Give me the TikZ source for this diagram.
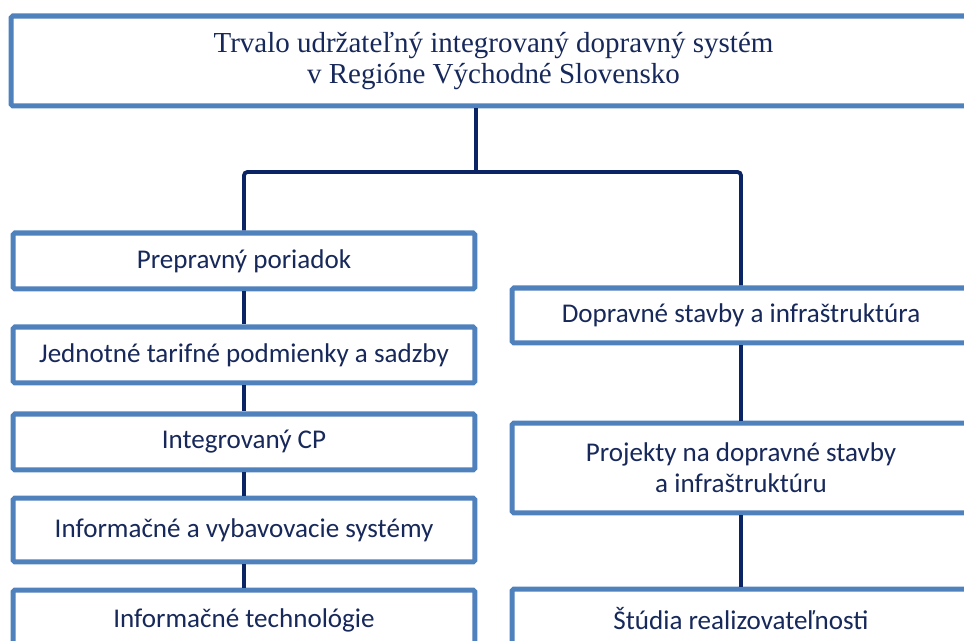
\documentclass[tikz,border=0pt]{standalone}
\usepackage{fontspec}
\setmainfont{Carlito}
\newfontfamily\titlefont{Liberation Serif}

\definecolor{boxblue}{HTML}{4F81BD}
\definecolor{linenavy}{HTML}{0B2463}
\definecolor{textnavy}{HTML}{17285A}

\tikzset{
  box/.style={draw=boxblue, line width=2.85pt, rounded corners=1pt, fill=white,
    text=textnavy, align=center, inner sep=0pt,
    font=\fontsize{15.4}{17.5}\selectfont},
  leftbox/.style={box, minimum width=9.24cm},
  rightbox/.style={box, minimum width=9.16cm},
  link/.style={draw=linenavy, line width=2.2pt, rounded corners=2pt},
}

\begin{document}
\begin{tikzpicture}[x=0.02cm, y=-0.02cm]

\useasboundingbox (0,0) rectangle (964,641);
\clip (0,0) rectangle (964,641);

% top box
\node[box, minimum width=19.3cm, minimum height=1.8cm,
  font=\titlefont\fontsize{16.5}{17.5}\selectfont] (top) at (493.5,61)
  {Trvalo udržateľný integrovaný dopravný systém\\v Regióne Východné Slovensko};

% left column
\node[leftbox, minimum height=1.12cm] (pp)  at (244,261) {Prepravný poriadok};
\node[leftbox, minimum height=1.12cm] (jt)  at (244,355) {Jednotné tarifné podmienky a sadzby};
\node[leftbox, minimum height=1.12cm] (icp) at (244,442) {Integrovaný CP};
\node[leftbox, minimum height=1.28cm] (ivs) at (244,530) {Informačné a vybavovacie systémy};
\node[leftbox, minimum height=1.2cm]  (it)  at (244,620) {Informačné technológie};

% right column
\node[rightbox, minimum height=1.1cm] (ds)  at (741,315.5) {Dopravné stavby a infraštruktúra};
\node[rightbox, minimum height=1.8cm] (pds) at (741,468) {Projekty na dopravné stavby\\a infraštruktúru};
\node[rightbox, minimum height=1.2cm] (sr)  at (741,619) {Štúdia realizovateľnosti};

\coordinate (split) at (476,172);

\begin{scope}[on background layer/.try]
\draw[link] (top.south -| split) -- (split);
\draw[link] (pp.north) |- (split) -| (ds.north);

\draw[link] (pp.south) -- (jt.north);
\draw[link] (jt.south) -- (icp.north);
\draw[link] (icp.south) -- (ivs.north);
\draw[link] (ivs.south) -- (it.north);

\draw[link] (ds.south) -- (pds.north);
\draw[link] (pds.south) -- (sr.north);
\end{scope}

\end{tikzpicture}
\end{document}
